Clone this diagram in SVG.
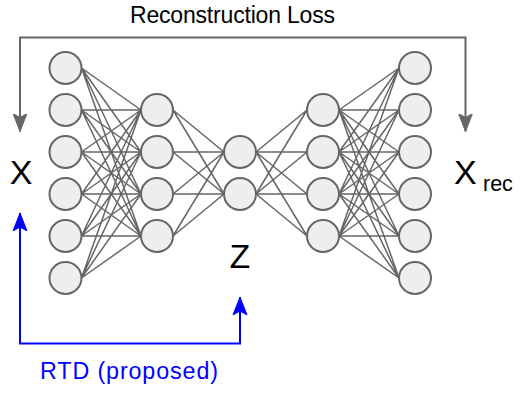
<svg xmlns="http://www.w3.org/2000/svg" width="522" height="393" viewBox="0 0 522 393">
<style>
.n{fill:#eeeeee;stroke:#666666;stroke-width:2}
.e{stroke:#666666;stroke-width:1.5;fill:none}
.g{stroke:#666666;stroke-width:2;fill:none}
.b{stroke:#0000ff;stroke-width:2;fill:none}
.t{font-family:"Liberation Sans",Arial,sans-serif}
</style>
<defs>
<marker id="ag" markerUnits="userSpaceOnUse" viewBox="0 0 20 16" refX="18" refY="8" markerWidth="20" markerHeight="16" orient="auto-start-reverse">
<path d="M0,1 L18,8 L0,15 L4,8 Z" fill="#666666" stroke="#666666" stroke-width="1"/>
</marker>
<marker id="ab" markerUnits="userSpaceOnUse" viewBox="0 0 20 16" refX="18" refY="8" markerWidth="20" markerHeight="16" orient="auto-start-reverse">
<path d="M0,1 L18,8 L0,15 L4,8 Z" fill="#0000ff" stroke="#0000ff" stroke-width="1"/>
</marker>
</defs>
<rect width="522" height="393" fill="#ffffff"/>
<g id="connectors">
<g class="e">
<path d="M81.5,68 L141,110 M81.5,68 L141,152 M81.5,68 L141,194 M81.5,68 L141,236
M81.5,110 L141,110 M81.5,110 L141,152 M81.5,110 L141,194 M81.5,110 L141,236
M81.5,152 L141,110 M81.5,152 L141,152 M81.5,152 L141,194 M81.5,152 L141,236
M81.5,194 L141,110 M81.5,194 L141,152 M81.5,194 L141,194 M81.5,194 L141,236
M81.5,236 L141,110 M81.5,236 L141,152 M81.5,236 L141,194 M81.5,236 L141,236
M81.5,278 L141,110 M81.5,278 L141,152 M81.5,278 L141,194 M81.5,278 L141,236"/>
<path d="M173,110 L224,152 M173,110 L224,194 M173,152 L224,152 M173,152 L224,194
M173,194 L224,152 M173,194 L224,194 M173,236 L224,152 M173,236 L224,194"/>
<path d="M256,152 L307,110 M256,152 L307,152 M256,152 L307,194 M256,152 L307,236
M256,194 L307,110 M256,194 L307,152 M256,194 L307,194 M256,194 L307,236"/>
<path d="M339,110 L399,68 M339,110 L399,110 M339,110 L399,152 M339,110 L399,194 M339,110 L399,236 M339,110 L399,278
M339,152 L399,68 M339,152 L399,110 M339,152 L399,152 M339,152 L399,194 M339,152 L399,236 M339,152 L399,278
M339,194 L399,68 M339,194 L399,110 M339,194 L399,152 M339,194 L399,194 M339,194 L399,236 M339,194 L399,278
M339,236 L399,68 M339,236 L399,110 M339,236 L399,152 M339,236 L399,194 M339,236 L399,236 M339,236 L399,278"/>
</g>
<path class="g" d="M20,131.5 L20,37.5 L465.5,37.5 L465.5,131.5" marker-start="url(#ag)" marker-end="url(#ag)"/>
<path class="b" d="M20,213 L20,343.5 L240,343.5 L240,297" marker-start="url(#ab)" marker-end="url(#ab)"/>
</g>
<g id="layer1">
<circle class="n" cx="65.5" cy="68" r="16"/>
<circle class="n" cx="65.5" cy="110" r="16"/>
<circle class="n" cx="65.5" cy="152" r="16"/>
<circle class="n" cx="65.5" cy="194" r="16"/>
<circle class="n" cx="65.5" cy="236" r="16"/>
<circle class="n" cx="65.5" cy="278" r="16"/>
</g>
<g id="layer2">
<circle class="n" cx="157" cy="110" r="16"/>
<circle class="n" cx="157" cy="152" r="16"/>
<circle class="n" cx="157" cy="194" r="16"/>
<circle class="n" cx="157" cy="236" r="16"/>
</g>
<g id="layer3">
<circle class="n" cx="240" cy="152" r="16"/>
<circle class="n" cx="240" cy="194" r="16"/>
</g>
<g id="layer4">
<circle class="n" cx="323" cy="110" r="16"/>
<circle class="n" cx="323" cy="152" r="16"/>
<circle class="n" cx="323" cy="194" r="16"/>
<circle class="n" cx="323" cy="236" r="16"/>
</g>
<g id="layer5">
<circle class="n" cx="415" cy="68" r="16"/>
<circle class="n" cx="415" cy="110" r="16"/>
<circle class="n" cx="415" cy="152" r="16"/>
<circle class="n" cx="415" cy="194" r="16"/>
<circle class="n" cx="415" cy="236" r="16"/>
<circle class="n" cx="415" cy="278" r="16"/>
</g>
<g id="labels" class="t">
<text x="232.5" y="22.7" font-size="23" text-anchor="middle" textLength="205" fill="#000000">Reconstruction Loss</text>
<text x="21" y="184" font-size="34" text-anchor="middle" fill="#000000">X</text>
<text x="454" y="184" font-size="34" fill="#000000">X</text>
<text x="483" y="190.5" font-size="21.5" fill="#000000">rec</text>
<text x="240" y="268" font-size="34" text-anchor="middle" fill="#000000">Z</text>
<text x="40" y="379" font-size="23.3" textLength="178" fill="#0000ff">RTD (proposed)</text>
</g>
</svg>
